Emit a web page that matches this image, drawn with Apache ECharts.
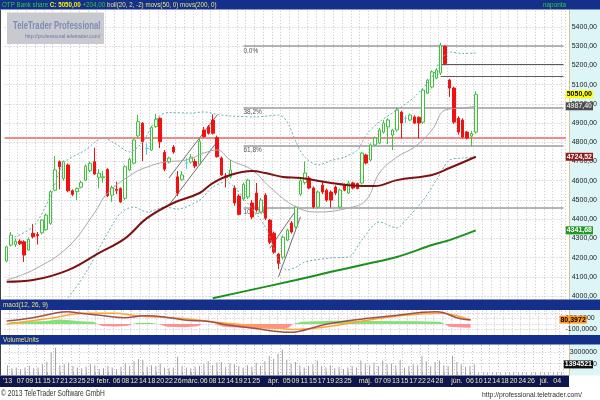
<!DOCTYPE html>
<html><head><meta charset="utf-8">
<script src="https://cdn.jsdelivr.net/npm/echarts@6/dist/echarts.min.js"></script>
<style>html,body{margin:0;padding:0;background:#fff}#c{width:600px;height:400px}</style>
</head><body><div id="c"></div>
<script>
// ---------- DATA ----------
const tradingDays = {
  '01':[2,3,4,7,8,9,10,11,14,15,16,17,18,21,22,23,24,25,28,29,30,31],
  '02':[1,4,5,6,7,8,11,12,13,14,15,18,19,20,21,22,25,26,27,28],
  '03':[1,4,5,6,7,8,11,12,13,14,18,19,20,21,22,25,26,27,28],
  '04':[2,3,4,5,8,9,10,11,12,15,16,17,18,19,22,23,24,25,26,29,30],
  '05':[2,3,6,7,8,9,10,13,14,15,16,17,21,22,23,24,27,28,29,30,31],
  '06':[3,4,5,6,7,10,11,12,13,14,17,18,19,20,21,24,25,26,27,28],
  '07':[1,2,3,4,5]
};
const tickLabels = [
  ['01-02',"'13"],['01-07','07'],['01-09','09'],['01-11','11'],['01-15','15'],['01-17','17'],['01-21','21'],['01-23','23'],['01-25','25'],['01-29','29'],
  ['02-01','febr.'],['02-06','06'],['02-08','08'],['02-12','12'],['02-14','14'],['02-18','18'],['02-20','20'],['02-22','22'],['02-26','26'],
  ['03-01','márc.'],['03-06','06'],['03-08','08'],['03-12','12'],['03-14','14'],['03-19','19'],['03-21','21'],['03-25','25'],
  ['04-02','ápr.'],['04-05','05'],['04-09','09'],['04-11','11'],['04-15','15'],['04-17','17'],['04-19','19'],['04-23','23'],['04-25','25'],
  ['05-02','máj.'],['05-07','07'],['05-09','09'],['05-13','13'],['05-15','15'],['05-17','17'],['05-22','22'],['05-24','24'],['05-28','28'],
  ['06-03','jún.'],['06-06','06'],['06-10','10'],['06-12','12'],['06-14','14'],['06-18','18'],['06-20','20'],['06-24','24'],['06-26','26'],
  ['07-01','júl.'],['07-04','04']
];
// [open, close, low, high]
const candles = [
 [4182,4256,4175,4262],[4265,4317,4258,4333],[4268,4285,4255,4300],[4285,4272,4265,4295],[4282,4213,4177,4290],
 [4239,4295,4235,4305],[4326,4308,4300,4374],[4320,4314,4268,4333],[4329,4395,4320,4400],[4345,4421,4340,4430],
 [4378,4543,4370,4550],[4551,4656,4545,4728],[4699,4673,4555,4705],[4612,4699,4600,4705],[4682,4548,4540,4690],
 [4548,4529,4520,4555],[4543,4560,4499,4565],[4566,4590,4560,4600],[4603,4676,4598,4685],[4652,4691,4645,4700],
 [4699,4635,4630,4772],[4618,4639,4560,4660],[4615,4620,4590,4650],[4659,4522,4515,4665],[4525,4565,4490,4575],
 [4555,4550,4530,4595],[4560,4490,4485,4565],[4508,4673,4500,4680],[4656,4711,4650,4720],[4691,4812,4685,4820],
 [4833,4907,4825,4942],[4899,4803,4702,4905],[4768,4768,4735,4795],[4760,4878,4755,4885],[4881,4920,4875,4948],
 [4925,4803,4770,4930],[4748,4660,4650,4760],[4697,4718,4690,4725],[4775,4749,4740,4785],[4620,4535,4520,4650],
 [4605,4630,4600,4650],[4692,4692,4660,4720],[4697,4723,4690,4740],[4700,4676,4665,4715],[4685,4805,4680,4820],
 [4864,4829,4825,4880],[4881,4847,4840,4890],[4916,4847,4840,4945],[4825,4725,4720,4835],[4718,4630,4625,4725],
 [4625,4618,4565,4640],[4620,4656,4612,4708],[4562,4484,4470,4575],[4520,4425,4420,4530],[4505,4580,4495,4590],
 [4515,4603,4505,4610],[4484,4411,4400,4500],[4536,4447,4440,4588],[4437,4499,4430,4510],[4525,4405,4395,4535],
 [4395,4280,4270,4400],[4327,4228,4220,4335],[4218,4170,4140,4225],[4202,4306,4190,4315],[4291,4343,4285,4350],
 [4380,4333,4325,4390],[4359,4463,4350,4470],[4530,4600,4520,4610],[4590,4640,4580,4700],[4614,4562,4555,4625],
 [4562,4463,4455,4570],[4463,4541,4455,4550],[4577,4541,4530,4600],[4551,4499,4490,4560],[4541,4499,4460,4550],
 [4567,4536,4525,4575],[4463,4551,4455,4560],[4577,4551,4545,4585],[4536,4588,4530,4600],[4588,4562,4555,4595],
 [4585,4560,4555,4590],[4588,4744,4580,4750],[4734,4692,4685,4740],[4708,4786,4700,4795],[4786,4822,4780,4830],
 [4796,4864,4790,4875],[4853,4900,4845,4915],[4880,4916,4790,4925],[4838,4864,4760,4870],[4864,4968,4855,4980],
 [4957,4900,4820,4965],[4926,4926,4900,4940],[4916,4942,4910,4950],[4932,4900,4895,4940],[4930,4900,4820,4935],
 [4905,5072,4895,5080],[5056,5124,5050,5130],[5088,5166,5080,5175],[5134,5176,5128,5185],[5160,5306,5150,5318],
 [5300,5210,5200,5305],[5124,5082,5036,5130],[5082,4905,4895,5090],[4926,4853,4840,4935],[4916,4827,4820,4925],
 [4853,4822,4815,4860],[4832,4846,4780,4860],[4853,5050,4845,5065]
];
const dojiIdx = [32, 41, 91];
const volumes = [
 1.3,0.9,1.0,0.8,1.0,1.2,0.9,1.0,1.4,1.7, 3.0,3.6,1.3,1.4,1.6,1.2,1.0,0.9,1.1,1.4,
 1.3,0.8,0.9,1.2,1.0,0.8,1.1,1.5,1.2,1.8, 2.1,2.0,1.1,1.3,1.2,1.5,1.0,0.9,1.0,2.4,
 1.2,1.0,0.9,1.1,1.2,1.4,1.8,1.3,1.6,1.7, 1.1,1.5,1.4,1.2,1.0,1.3,1.1,1.6,1.2,1.8,
 2.5,2.1,2.8,3.35,2.0,1.5,1.7,1.3,1.0,1.2, 1.4,1.9,1.2,1.0,1.3,0.9,1.1,0.8,1.0,1.2,
 1.0,1.9,1.5,1.3,1.6,1.2,1.9,1.4,1.5,1.3, 2.0,1.0,1.2,1.4,1.3,2.5,1.8,1.2,1.7,1.9,
 1.3,1.2,2.5,1.7,1.4,1.1,1.2,1.394521
];
// [dayIndex, value]
const bollUpper = [[1,4300],[6,4360],[10,4520],[13,4690],[18,4760],[22,4822],[25,4790],[28,4750],[31,4800],[33,4880],[35,4940],[37,4955],[42,4952],[45,4958],[48,4945],[51,4937],[57,4932],[62,4942],[64,4906],[66,4801],[68,4723],[71,4682],[74,4705],[77,4723],[80,4760],[82,4838],[85,4906],[89,4968],[93,5036],[97,5140],[99,5228],[101,5270],[104,5262],[107,5265]];
const bollMid = [[0,4083],[6,4135],[14,4255],[20,4432],[23,4536],[29,4640],[32,4671],[36,4697],[41,4708],[45,4744],[48,4760],[51,4708],[56,4656],[60,4567],[66,4463],[71,4437],[78,4458],[82,4499],[85,4640],[89,4723],[93,4775],[97,4864],[100,4968],[104,4978],[107,4987.40]];
const bollLower = [[14,3990],[18,4119],[23,4327],[26,4432],[29,4463],[32,4437],[36,4463],[39,4453],[44,4499],[47,4567],[50,4593],[52,4567],[54,4510],[59,4359],[62,4187],[64,4135],[66,4150],[68,4177],[74,4198],[78,4203],[81,4291],[85,4385],[89,4354],[91,4395],[95,4499],[98,4603],[101,4708],[104,4718],[107,4723]];
const ma50 = [[0,4074],[6,4083],[14,4135],[21,4223],[27,4300],[32,4405],[38,4484],[44,4536],[47,4588],[51,4630],[56,4650],[59,4640],[63,4619],[67,4614],[74,4588],[78,4577],[84,4572],[89,4603],[97,4630],[101,4666],[107,4724.52]];
const ma200 = [[47,3988],[56,4033],[66,4083],[74,4126],[82,4166],[89,4203],[97,4265],[101,4291],[107,4341.68]];
const macdLine = [[0,55],[6,115],[11,196],[14,225],[17,196],[21,165],[27,115],[32,152],[36,134],[41,73],[47,42],[51,-18],[57,-79],[63,-141],[65,-152],[67,-141],[74,0],[82,92],[89,152],[99,225],[101,201],[104,110],[107,73]];
const signalLine = [[0,-5],[10,104],[18,196],[25,196],[30,152],[40,104],[51,13],[63,-79],[66,-100],[74,-49],[82,55],[89,134],[100,196],[103,165],[107,80.3972]];
const histPos = [[0,0],[1,35],[5,45],[9,55],[12,80],[14,75],[17,50],[20,40],[21,0],null,[29,0],[30,20],[33,25],[35,0],null,[66,0],[68,40],[75,60],[85,55],[95,50],[100,40],[101,0]];
const histNeg = [[21,0],[22,-35],[25,-45],[28,-30],[29,0],null,[35,0],[37,-50],[41,-60],[44,-40],[45,0],null,[48,0],[50,-50],[56,-80],[62,-90],[65,-70],[66,0],null,[101,0],[102,-50],[105,-65],[107,-70]];
const fibStart = 54, lineEnd = 127;
const fibLevels = [['0,0%',5300],['38,2%',4979],['61,8%',4781],['100,0%',4460]];
const supportLines = [[99,5204],[99,5143]];
const redLevel = 4824;
const trendLines = [[[36.8,4614],[47.6,4942]],[[37,4473],[47.6,4803]],[[60.1,4248],[66,4447]],[[61.8,4100],[66.5,4412]]];

// ---------- BUILD ----------
const dates = [];
Object.keys(tradingDays).forEach(m => tradingDays[m].forEach(d => dates.push(m + '-' + String(d).padStart(2,'0'))));
const labelMap = {}; tickLabels.forEach(t => labelMap[t[0]] = t[1]);
const FONT = "'Liberation Sans',Arial,sans-serif";
const f2 = v => v.toFixed(2).replace('.', ',');
const f4 = v => v.toFixed(4).replace('.', ',');
const dot = {color:'#cbbfc9', type:[1,2], width:1};
const last = a => a[a.length-1][1];
const lastClose = candles[candles.length-1][1];
const prevClose = candles[candles.length-2][1];

const candleData = candles.map((c,i) => dojiIdx.indexOf(i) >= 0
  ? {value:c, itemStyle:{color:'#3fd6dc', color0:'#3fd6dc', borderColor:'#3fd6dc', borderColor0:'#3fd6dc', borderColorDoji:'#3fd6dc'}}
  : c);

function boxLabel(val, text, bg, fg){
  return {yAxis: val, lineStyle:{color:'rgba(0,0,0,0)', width:0}, label:{show:true, position:'end', distance:0, formatter:text,
    backgroundColor:bg, color:fg, fontFamily:FONT, fontSize:7, fontWeight:'bold', padding:[1,1,0,1], borderRadius:0, opacity:1}};
}

const xBase = (gi) => ({type:'category', gridIndex:gi, data:dates, boundaryGap:true,
  axisLine:{show:false}, axisTick:{show:false}, axisLabel:{show:false},
  splitLine:{show:true, interval:(i)=> i % 2 === 1, lineStyle:dot}});

const xVol = xBase(2);
xVol.axisTick = {show:true, inside:true, length:3, interval:0, alignWithLabel:true, lineStyle:{color:'#b8b8b8'}};
xVol.axisLabel = {show:true, interval:(i)=> labelMap[dates[i]] !== undefined, formatter:(v)=> labelMap[v] || '',
  color:'#ece6a6', fontFamily:FONT, fontSize:7, margin:3};

const yLab = {margin:6, color:'#222', fontFamily:FONT, fontSize:7};
const option = {
  animation:false,
  backgroundColor:'#ffffff',
  grid:[
    {left:4.5, right:31, top:7.8, height:307.4},
    {left:4.5, right:31, top:310.35, height:24.55},
    {left:4.5, right:31, top:345, height:30}
  ],
  xAxis:[xBase(0), xBase(1), xVol],
  yAxis:[
    {type:'value', gridIndex:0, position:'right', min:3900, max:5500, interval:100,
     axisLine:{show:false}, axisTick:{show:false},
     splitLine:{show:true, lineStyle:dot, showMinLine:false, showMaxLine:false},
     axisLabel:Object.assign({formatter:(v)=> (v>=4000 && v<=5400) ? f2(v) : ''}, yLab)},
    {type:'value', gridIndex:1, position:'right', min:-200, max:250, interval:100,
     axisLine:{show:false}, axisTick:{show:false},
     splitLine:{show:true, lineStyle:dot, showMinLine:false, showMaxLine:false},
     axisLabel:Object.assign({formatter:(v)=> (v===100||v===-100) ? f4(v) : ''}, yLab)},
    {type:'value', gridIndex:2, position:'right', min:0, max:3950000, interval:1500000,
     axisLine:{show:false}, axisTick:{show:false},
     splitLine:{show:true, lineStyle:dot, showMinLine:false, showMaxLine:false},
     axisLabel:Object.assign({formatter:(v)=> v===3000000 ? '3000000' : (v===1500000 ? '1500000' : '')}, yLab)}
  ],
  series:[
    {type:'candlestick', xAxisIndex:0, yAxisIndex:0, data:candleData, barWidth:3, z:3,
     itemStyle:{color:'#ffffff', color0:'#f01212', borderColor:'#3cc43c', borderColor0:'#f01212', borderWidth:1},
     markLine:{symbol:['none','none'], silent:true, z:2, animation:false,
       data:[
         {yAxis:redLevel, lineStyle:{color:'#f08a8a', width:2, type:'solid'}, label:{show:false}},
         ...fibLevels.map(f => [
           {coord:[fibStart, f[1]], lineStyle:{color:'#9c9c9c', width:1.5, type:'solid'},
            label:{show:true, position:'insideStartBottom', formatter:f[0], color:'#555', fontFamily:FONT, fontSize:6.5, distance:[0,1]}},
           {coord:[lineEnd, f[1]]}]),
         ...supportLines.map(s => [
           {coord:[s[0], s[1]], lineStyle:{color:'#5a5a5a', width:1.2, type:'solid'}, label:{show:false}},
           {coord:[lineEnd, s[1]]}]),
         ...trendLines.map(t => [
           {coord:t[0], lineStyle:{color:'#707070', width:1, type:'solid'}, label:{show:false}},
           {coord:t[1]}])
       ]}},
    {type:'line', xAxisIndex:0, yAxisIndex:0, data:bollUpper, symbol:'none', smooth:0.3, z:4,
     lineStyle:{color:'#62b2b4', width:1, type:[2,2]}},
    {type:'line', xAxisIndex:0, yAxisIndex:0, data:bollLower, symbol:'none', smooth:0.3, z:4,
     lineStyle:{color:'#62b2b4', width:1, type:[2,2]}},
    {type:'line', xAxisIndex:0, yAxisIndex:0, data:bollMid, symbol:'none', smooth:0.4, z:4,
     lineStyle:{color:'#a8a8a8', width:1},
     markLine:{symbol:['none','none'], silent:true, z:20, data:[boxLabel(last(bollMid), f2(last(bollMid)), '#4a4a4a', '#d8d8d8')]}},
    {type:'line', xAxisIndex:0, yAxisIndex:0, data:ma50, symbol:'none', smooth:0.4, z:5,
     lineStyle:{color:'#7e1212', width:2},
     markLine:{symbol:['none','none'], silent:true, z:20, data:[boxLabel(last(ma50), f2(last(ma50)), '#8e1a1a', '#ffffff')]}},
    {type:'line', xAxisIndex:0, yAxisIndex:0, data:ma200, symbol:'none', smooth:0.3, z:5,
     lineStyle:{color:'#17921a', width:2},
     markLine:{symbol:['none','none'], silent:true, z:20, data:[boxLabel(last(ma200), f2(last(ma200)), '#1f9a22', '#ffffff')]}},
    {type:'line', xAxisIndex:0, yAxisIndex:0, data:[], symbol:'none',
     markLine:{symbol:['none','none'], silent:true, z:20, data:[boxLabel(lastClose, f2(lastClose), '#ffff00', '#000')]}},
    // MACD
    {type:'line', xAxisIndex:1, yAxisIndex:1, data:histPos, symbol:'none', connectNulls:false,
     lineStyle:{width:0}, areaStyle:{color:'#86e07a', opacity:1}},
    {type:'line', xAxisIndex:1, yAxisIndex:1, data:histNeg, symbol:'none', connectNulls:false,
     lineStyle:{width:0}, areaStyle:{color:'#ff9090', opacity:1}},
    {type:'line', xAxisIndex:1, yAxisIndex:1, data:signalLine, symbol:'none', smooth:0.4,
     lineStyle:{color:'#ffa531', width:1.5},
     markLine:{symbol:['none','none'], silent:true, z:20, data:[boxLabel(last(signalLine), f4(last(signalLine)), '#ff9a20', '#000')]}},
    {type:'line', xAxisIndex:1, yAxisIndex:1, data:macdLine, symbol:'none', smooth:0.4,
     lineStyle:{color:'#a0504a', width:1.5}},
    // Volume
    {type:'bar', xAxisIndex:2, yAxisIndex:2, data:volumes.map(v=>v*1e6), barWidth:1,
     itemStyle:{color:'#a0a0a0'},
     markLine:{symbol:['none','none'], silent:true, z:20, data:[boxLabel(volumes[volumes.length-1]*1e6, String(Math.round(volumes[volumes.length-1]*1e6)), '#111111', '#ffffff')]}}
  ],
  graphic:[
    {type:'rect', z:-10, shape:{x:569, y:9.5, width:31, height:290}, style:{fill:'#def5f7'}},
    {type:'rect', z:-10, shape:{x:569, y:310, width:31, height:25}, style:{fill:'#def5f7'}},
    {type:'rect', z:-10, shape:{x:569, y:344.5, width:31, height:31}, style:{fill:'#def5f7'}},
    {type:'line', z:-9, shape:{x1:569.5, y1:9.5, x2:569.5, y2:375.5}, style:{stroke:'#d2c78e', lineWidth:1}},
    {type:'line', z:-9, shape:{x1:0.5, y1:9.5, x2:0.5, y2:375.5}, style:{stroke:'#444', lineWidth:1}},
    {type:'rect', z:-10, shape:{x:0, y:375.5, width:569, height:11.5}, style:{fill:'#0c1552'}},
    {type:'rect', z:100, shape:{x:0, y:0, width:600, height:9.5}, style:{fill:'#15308a'}},
    {type:'rect', z:100, shape:{x:0, y:299.5, width:600, height:10.5}, style:{fill:'#15308a'}},
    {type:'rect', z:100, shape:{x:0, y:335, width:600, height:9.5}, style:{fill:'#15308a'}},
    {type:'text', z:101, x:2, y:1, scaleX:0.78,
     style:{text:'{g|OTP Bank share} {y|C: ' + f2(lastClose) + '} {g|+' + f2(lastClose - prevClose) + '} {w|boll(20, 2, -2) movs(50, 0) movs(200, 0)}',
      fontFamily:FONT, fontSize:8, rich:{g:{fill:'#35c835', fontFamily:FONT, fontSize:8}, y:{fill:'#f2f200', fontFamily:FONT, fontSize:8, fontWeight:'bold'}, w:{fill:'#e6e27a', fontFamily:FONT, fontSize:8}}}},
    {type:'text', z:101, x:543, y:1, scaleX:0.8, style:{text:'naponta', fill:'#35c835', fontFamily:FONT, fontSize:8}},
    {type:'text', z:101, x:3, y:301, scaleX:0.8, style:{text:'macd(12, 26, 9)', fill:'#e6e27a', fontFamily:FONT, fontSize:8}},
    {type:'text', z:101, x:3, y:336, scaleX:0.8, style:{text:'VolumeUnits', fill:'#e6e27a', fontFamily:FONT, fontSize:8}},
    {type:'rect', z:50, shape:{x:7, y:12.5, width:97, height:31.5}, style:{fill:'#c9c9d0'}},
    {type:'text', z:51, x:13, y:21, scaleX:0.74, style:{text:'TeleTrader Professional', fill:'#7d8db3', fontFamily:FONT, fontSize:10.5, fontWeight:'bold'}},
    {type:'text', z:51, x:25, y:33, scaleX:0.85, style:{text:'http://professional.teletrader.com/', fill:'#6a78a6', fontFamily:FONT, fontSize:6}},
    {type:'text', z:10, x:1, y:389, scaleX:0.78, style:{text:'© 2013 TeleTrader Software GmbH', fill:'#333', fontFamily:FONT, fontSize:8.5}},
    {type:'text', z:10, x:482, y:391, scaleX:0.9, style:{text:'http://professional.teletrader.com/', fill:'#333', fontFamily:FONT, fontSize:7.5}}
  ]
};
const chart = echarts.init(document.getElementById('c'), null, {renderer:'canvas'});
chart.setOption(option);
</script></body></html>
